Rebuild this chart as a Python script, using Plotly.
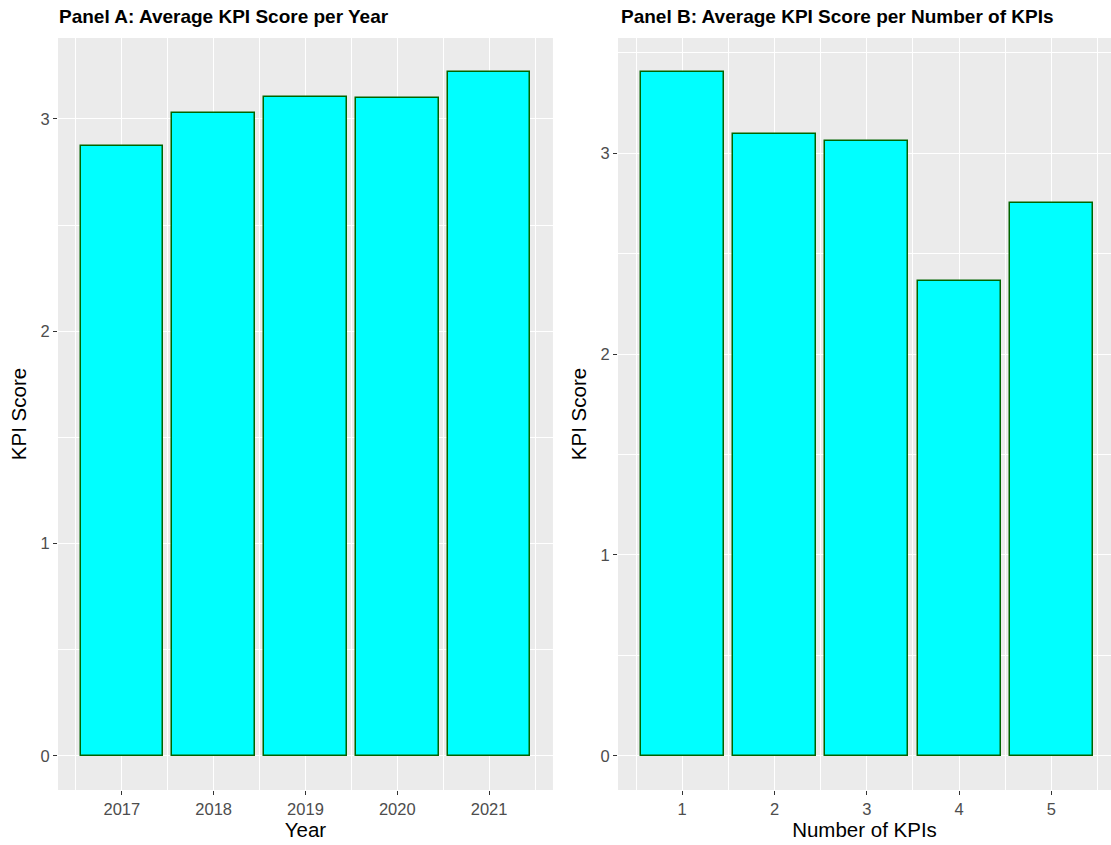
import plotly.graph_objects as go

# Values
years = ["2017", "2018", "2019", "2020", "2021"]
score_by_year = [2.873, 3.028, 3.103, 3.098, 3.220]

n_kpis = ["1", "2", "3", "4", "5"]
score_by_nkpi = [3.403, 3.095, 3.060, 2.365, 2.752]

FONT = "Liberation Sans, Arial, sans-serif"
PANEL_BG = "#EBEBEB"
BAR_W = 0.9

fig = go.Figure()

bar_style = dict(marker=dict(color="#00FFFF", line=dict(color="#006400", width=1.5)),
                 width=BAR_W, showlegend=False, hoverinfo="x+y")

fig.add_trace(go.Bar(x=list(range(1, len(years) + 1)), y=score_by_year,
                     xaxis="x", yaxis="y", **bar_style))
fig.add_trace(go.Bar(x=list(range(1, len(n_kpis) + 1)), y=score_by_nkpi,
                     xaxis="x2", yaxis="y2", **bar_style))


def x_axis(labels, domain, anchor, title, trim=0.0):
    # continuous axis, 5% expansion around the bar extents (ggplot default);
    # trim cuts the right end where the original image is cropped
    n = len(labels)
    lo, hi = 1 - BAR_W / 2, n + BAR_W / 2
    pad = 0.05 * (hi - lo)
    return dict(
        domain=domain, anchor=anchor,
        range=[lo - pad, hi + pad - trim],
        tickvals=list(range(1, n + 1)), ticktext=labels,
        showgrid=True, gridcolor="white", gridwidth=1.1,
        minor=dict(tickvals=[i + 0.5 for i in range(n + 1)], showgrid=True,
                   gridcolor="white", gridwidth=0.5, ticks=""),
        zeroline=False, showline=False,
        ticks="outside", ticklen=4, tickwidth=1.2, tickcolor="#333333",
        tickfont=dict(family=FONT, size=16.5, color="#4D4D4D"),
        title=dict(text=title, font=dict(family=FONT, size=20.5, color="black"), standoff=3),
    )


def y_axis(top, domain, anchor):
    pad = 0.05 * top
    return dict(
        domain=domain, anchor=anchor,
        range=[-pad, top + pad],
        tickvals=[0, 1, 2, 3],
        showgrid=True, gridcolor="white", gridwidth=1.1,
        minor=dict(tickvals=[0.5, 1.5, 2.5, 3.5], showgrid=True,
                   gridcolor="white", gridwidth=0.5, ticks=""),
        zeroline=False, showline=False,
        ticks="outside", ticklen=4, tickwidth=1.2, tickcolor="#333333",
        tickfont=dict(family=FONT, size=16.5, color="#4D4D4D"),
        title=dict(text="KPI Score", font=dict(family=FONT, size=20.5, color="black"), standoff=8),
    )


ydom = [0.0651, 0.955]
fig.update_layout(
    width=1111, height=845,
    margin=dict(l=0, r=0, t=0, b=0),
    paper_bgcolor="white", plot_bgcolor=PANEL_BG,
    bargap=0,
    xaxis=x_axis(years, [0.0522, 0.4977], "y", "Year"),
    yaxis=y_axis(max(score_by_year), ydom, "x"),
    xaxis2=x_axis(n_kpis, [618 / 1111, 1.0], "y2", "Number of KPIs", trim=0.05),
    yaxis2=y_axis(max(score_by_nkpi), ydom, "x2"),
    annotations=[
        dict(text="<b>Panel A: Average KPI Score per Year</b>", xref="paper", yref="paper",
             x=57 / 1111, y=1 - 16 / 845, xanchor="left", yanchor="middle", showarrow=False,
             font=dict(family=FONT, size=19, color="black")),
        dict(text="<b>Panel B: Average KPI Score per Number of KPIs</b>", xref="paper", yref="paper",
             x=619 / 1111, y=1 - 16 / 845, xanchor="left", yanchor="middle", showarrow=False,
             font=dict(family=FONT, size=19, color="black")),
    ],
)

# drop the page's default body margin so the figure sits at the window's corner
fig.write_html("out.html", config={"displayModeBar": False},
               post_script="document.body.style.margin='0';")
